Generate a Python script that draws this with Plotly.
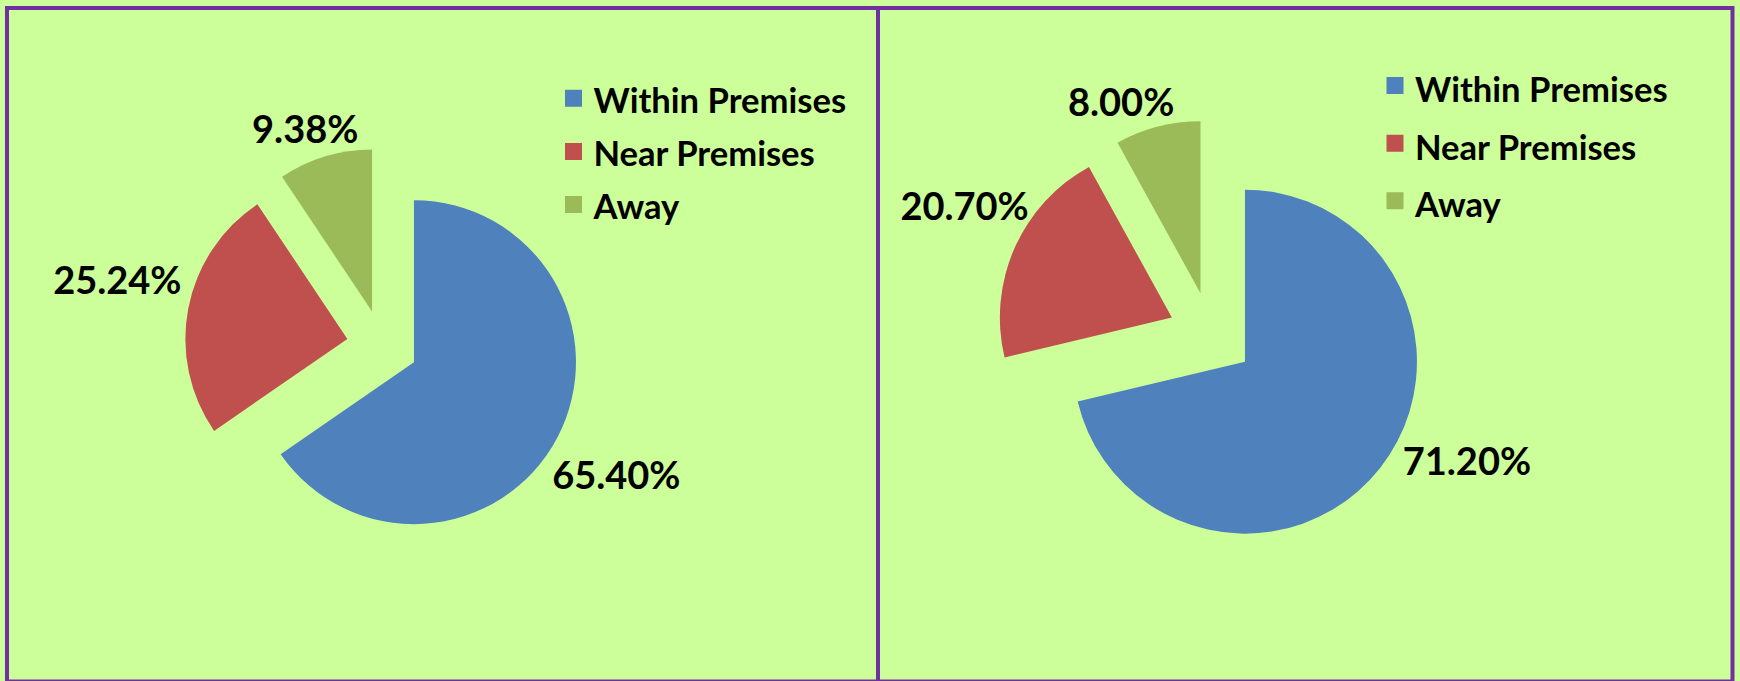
import plotly.graph_objects as go

# ---- data ----
categories = ["Within Premises", "Near Premises", "Away"]
left_values = [65.40, 25.24, 9.38]
right_values = [71.20, 20.70, 8.00]
slice_colors = ["#4F81BD", "#C0504D", "#9BBB59"]

# ---- layout / style constants ----
W, H = 1740, 681
BG = "#CCFF99"
FRAME = "#7030A0"
FONT = "Lato"
LABEL_SIZE = 38
LEGEND_TEXT = 34.6


def domain_px(cx, cy, half):
    return dict(x=[(cx - half) / W, (cx + half) / W],
                y=[1 - (cy + half) / H, 1 - (cy - half) / H])


def legend_labels():
    return [f"<span style='font-size:{LEGEND_TEXT}px'>{c}</span>" for c in categories]


label_font = dict(family=FONT, size=LABEL_SIZE, color="black", weight="bold")
clear = ["rgba(0,0,0,0)"] * len(categories)

fig = go.Figure()

# legend-key carriers (drawn first, tucked beneath the blue slices) so the
# legend swatches can use a thick same-colour outline -> larger squares
for vals, cx, cy, lid, grp in [(left_values, 494, 362, "legend", "left"),
                               (right_values, 1325, 362, "legend2", "right")]:
    fig.add_trace(go.Pie(
        labels=legend_labels(), values=vals, sort=False,
        direction="clockwise", rotation=0,
        marker=dict(colors=slice_colors, line=dict(color=slice_colors, width=5)),
        textinfo="none", domain=domain_px(cx, cy, 1),
        legend=lid, legendgroup=grp, showlegend=True, hoverinfo="skip",
    ))

# visible exploded pies (Excel style: clockwise from 12 o'clock)
fig.add_trace(go.Pie(
    labels=categories, values=left_values, sort=False,
    direction="clockwise", rotation=0,
    marker=dict(colors=slice_colors, line=dict(width=0)),
    pull=0.22, textinfo="none",
    domain=domain_px(382.4, 345.6, 162 * 1.22),
    showlegend=False, hoverinfo="label+percent",
))
fig.add_trace(go.Pie(
    labels=categories, values=right_values, sort=False,
    direction="clockwise", rotation=0,
    marker=dict(colors=slice_colors, line=dict(width=0)),
    pull=0.25, textinfo="none",
    domain=domain_px(1211.2, 335.0, 172 * 1.25),
    showlegend=False, hoverinfo="label+percent",
))

# transparent companion pies that carry the outside data labels
fig.add_trace(go.Pie(
    labels=categories, values=left_values, sort=False,
    direction="clockwise", rotation=9.4,
    marker=dict(colors=clear, line=dict(width=0)),
    pull=[0.0, 0.207, 0.157],
    textposition="outside", texttemplate="%{value:.2f}%", textfont=label_font,
    domain=domain_px(397, 357, 217.4),
    showlegend=False, hoverinfo="skip",
))
fig.add_trace(go.Pie(
    labels=categories, values=right_values, sort=False,
    direction="clockwise", rotation=2.9,
    marker=dict(colors=clear, line=dict(width=0)),
    pull=[0.231, 0.117, 0.0],
    textposition="outside", texttemplate="%{value:.2f}%", textfont=label_font,
    domain=domain_px(1222.2, 301.9, 224.6),
    showlegend=False, hoverinfo="skip",
))

fig.update_layout(
    width=W, height=H,
    margin=dict(l=0, r=0, t=0, b=0, autoexpand=False),
    paper_bgcolor=BG, plot_bgcolor=BG,
    legend=dict(x=553.5 / W, y=1 - 66.8 / H, xanchor="left", yanchor="top",
                bgcolor="rgba(0,0,0,0)", borderwidth=0,
                font=dict(family=FONT, size=38.5, color="black", weight="bold")),
    legend2=dict(x=1375 / W, y=1 - 51.8 / H, xanchor="left", yanchor="top",
                 bgcolor="rgba(0,0,0,0)", borderwidth=0,
                 font=dict(family=FONT, size=42, color="black", weight="bold")),
    shapes=[
        dict(type="rect", xref="paper", yref="paper",
             x0=7 / W, x1=1732.5 / W, y0=1 - 681.5 / H, y1=1 - 8 / H,
             line=dict(color=FRAME, width=4), fillcolor="rgba(0,0,0,0)"),
        dict(type="line", xref="paper", yref="paper",
             x0=878 / W, x1=878 / W, y0=1 - 681.5 / H, y1=1 - 8 / H,
             line=dict(color=FRAME, width=4)),
    ],
)

fig.write_html("out.html")
